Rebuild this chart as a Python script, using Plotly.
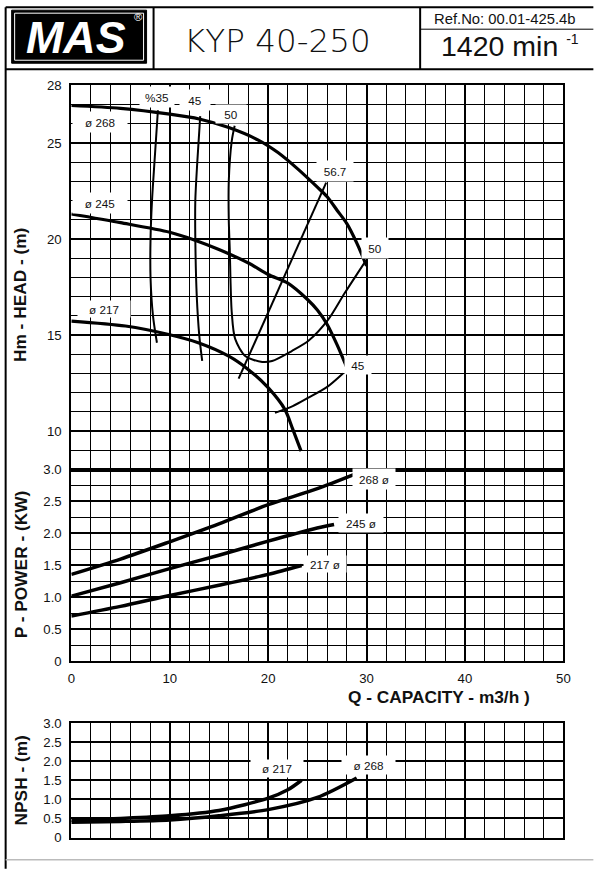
import plotly.graph_objects as go

# ---------------- data ----------------
# Head curves (Q m3/h, H m)
q_h268 = [0, 5, 10, 13, 16, 19, 21, 23, 25, 26, 27, 28, 29, 30]
h_h268 = [26.95, 26.8, 26.5, 26.25, 25.8, 25.15, 24.5, 23.65, 22.7, 22.2, 21.5, 20.8, 19.8, 18.6]
q_h245 = [0, 5, 10, 12.5, 15, 18, 20, 22, 24, 25, 26, 27, 28]
h_h245 = [21.3, 20.85, 20.35, 19.95, 19.45, 18.75, 18.15, 17.7, 16.85, 16.3, 15.55, 14.5, 13.3]
q_h217 = [0, 5.5, 9.9, 12.9, 16, 18, 20, 21.7, 22.5, 23.35]
h_h217 = [15.73, 15.47, 15.03, 14.6, 13.9, 13.2, 12.26, 11.13, 10.1, 8.96]

# Iso-efficiency curves
q_e35 = [8.8, 8.45, 8.2, 8.05, 8.05, 8.3, 8.7]
h_e35 = [26.7, 24.0, 22.0, 20.0, 18.0, 16.0, 14.6]
q_e45a = [13.1, 12.8, 12.6, 12.6, 12.75, 13.0, 13.3]
h_e45a = [26.4, 24.0, 22.0, 20.0, 17.0, 15.0, 13.65]
q_e45b = [20.7, 22.5, 24.1, 26.0, 27.6]
h_e45b = [10.95, 11.3, 11.74, 12.3, 13.0]
q_e50 = [16.6, 16.3, 16.0, 16.0, 16.1, 16.3, 16.65, 17.7, 19.4, 20.4, 22.4, 24.1, 26.1, 27.8, 29.9]
h_e50 = [25.9, 25.1, 23.0, 21.0, 19.5, 16.2, 14.8, 13.9, 13.6, 13.65, 14.17, 14.7, 15.8, 17.2, 18.85]
q_bep = [17.0, 25.9]
h_bep = [12.73, 22.94]

# Power curves (kW)
q_p268 = [0, 5, 10, 15, 20, 25, 28.7]
p_p268 = [1.36, 1.6, 1.87, 2.15, 2.45, 2.7, 2.92]
q_p245 = [0, 5, 10, 15, 20, 24.6, 26.7]
p_p245 = [1.02, 1.23, 1.45, 1.66, 1.88, 2.07, 2.14]
q_p217 = [0, 5, 10, 15, 20, 23.4]
p_p217 = [0.71, 0.86, 1.03, 1.19, 1.36, 1.5]

# NPSH curves (m)
q_n217 = [0, 5, 10, 15, 20, 22, 23.4]
n_n217 = [0.45, 0.5, 0.57, 0.71, 1.03, 1.25, 1.5]
q_n268 = [0, 5, 10, 15, 20, 25, 29]
n_n268 = [0.4, 0.42, 0.46, 0.57, 0.73, 1.05, 1.56]

head_ticks = [10, 15, 20, 25, 28]
kw_ticks = [0, 0.5, 1.0, 1.5, 2.0, 2.5, 3.0]
kw_ticktext = ["0", "0.5", "1.0", "1.5", "2.0", "2.5", "3.0"]
q_ticks = [0, 10, 20, 30, 40, 50]

# curve labels: (x, y, text, box w, box h)
head_labels = [(8.7, 27.4, "%35", 34, 20), (12.6, 27.22, "45", 30, 20), (16.2, 26.5, "50", 30, 18),
               (2.95, 26.11, "ø 268", 54, 20), (2.87, 21.86, "ø 245", 54, 20), (3.28, 16.34, "ø 217", 52, 16),
               (26.8, 23.54, "56.7", 36, 20), (30.9, 19.55, "50", 26, 20), (29.17, 13.42, "45", 26, 18)]
power_labels = [(30.79, 2.85, "268 ø", 42, 20), (29.44, 2.16, "245 ø", 44, 18), (25.79, 1.52, "217 ø", 42, 16)]
npsh_labels = [(20.87, 1.82, "ø 217", 52, 17), (30.18, 1.91, "ø 268", 53, 18)]

# ---------------- figure ----------------
W, H = 595, 869
K = 0.982                     # slight shrink observed in the photographed page
FONT = "Liberation Sans, Arial, sans-serif"


def fx(p):
    return (W / 2 + (p - W / 2) / K) / W


def fy(p):
    return 1 - (H / 2 + (p - H / 2) / K) / H


def fs(s):
    return round(s / K, 1)


fig = go.Figure()


def line(x, y, xa, ya, w):
    fig.add_trace(go.Scatter(x=x, y=y, xaxis=xa, yaxis=ya, mode="lines",
                             line=dict(color="black", width=w, shape="spline", smoothing=0.8),
                             showlegend=False, hoverinfo="skip"))


for q, h in [(q_h268, h_h268), (q_h245, h_h245), (q_h217, h_h217)]:
    line(q, h, "x", "y", 3.2)
for q, h in [(q_e35, h_e35), (q_e45a, h_e45a), (q_e45b, h_e45b), (q_e50, h_e50), (q_bep, h_bep)]:
    line(q, h, "x", "y", 2)
for q, p in [(q_p268, p_p268), (q_p245, p_p245), (q_p217, p_p217)]:
    line(q, p, "x2", "y2", 3.5)
for q, n in [(q_n217, n_n217), (q_n268, n_n268)]:
    line(q, n, "x3", "y3", 3.5)

xdom = [fx(72.7), fx(565)]
dom_head = [fy(470), fy(86.1)]
dom_pow = [fy(661.7), fy(470)]
dom_npsh = [fy(837.7), fy(723.3)]

tickfont = dict(family=FONT, size=fs(13), color="#111")


def xax(anchor, show):
    return dict(domain=xdom, range=[0, 50], anchor=anchor, tickvals=q_ticks, showticklabels=show,
                tickfont=tickfont, ticks="", ticklabelstandoff=4,
                showgrid=True, gridcolor="black", gridwidth=2,
                minor=dict(dtick=2, tick0=0, showgrid=True, gridcolor="black", gridwidth=1, ticks=""),
                showline=True, mirror=True, linecolor="black", linewidth=2, zeroline=False, fixedrange=True)


fig.update_layout(
    width=W, height=H, margin=dict(l=0, r=0, t=0, b=0),
    paper_bgcolor="white", plot_bgcolor="white", showlegend=False,
    xaxis=xax("y", False), xaxis2=xax("y2", True), xaxis3=xax("y3", False),
    yaxis=dict(domain=dom_head, range=[8, 28], anchor="x", tickvals=head_ticks, tickfont=tickfont,
               ticks="", ticklabelstandoff=5, showgrid=True, gridcolor="black", gridwidth=2,
               minor=dict(dtick=1, tick0=0, showgrid=True, gridcolor="black", gridwidth=1, ticks=""),
               showline=True, mirror=True, linecolor="black", linewidth=2, zeroline=False),
    yaxis2=dict(domain=dom_pow, range=[0, 3], anchor="x2", tickvals=kw_ticks, ticktext=kw_ticktext,
                tickfont=tickfont, ticks="", ticklabelstandoff=5, showgrid=True, gridcolor="black", gridwidth=2,
                minor=dict(dtick=0.25, tick0=0, showgrid=True, gridcolor="black", gridwidth=1, ticks=""),
                showline=True, mirror=True, linecolor="black", linewidth=2, zeroline=False),
    yaxis3=dict(domain=dom_npsh, range=[0, 3], anchor="x3", tickvals=kw_ticks, ticktext=kw_ticktext,
                tickfont=tickfont, ticks="", ticklabelstandoff=5, showgrid=True, gridcolor="black", gridwidth=1.5,
                showline=True, mirror=True, linecolor="black", linewidth=2, zeroline=False),
)

ann = []
lblfont = dict(family=FONT, size=fs(11.5), color="#111")
for lst, xr, yr in [(head_labels, "x", "y"), (power_labels, "x2", "y2"), (npsh_labels, "x3", "y3")]:
    for x, y, t, bw, bh in lst:
        ann.append(dict(x=x, y=y, xref=xr, yref=yr, text=t, showarrow=False, font=lblfont,
                        bgcolor="white", width=bw, height=bh, borderpad=0, align="center", valign="middle",
                        xanchor="center", yanchor="middle"))


def paper_text(x, y, text, font, angle=0):
    ann.append(dict(x=fx(x), y=fy(y), xref="paper", yref="paper", text=text, textangle=angle,
                    showarrow=False, font=font, xanchor="center", yanchor="middle"))


titlefont = dict(family=FONT, size=fs(17), color="#111")
paper_text(22, 296, "<b>Hm - HEAD - (m)</b>", titlefont, -90)
paper_text(22, 565, "<b>P - POWER - (KW)</b>", titlefont, -90)
paper_text(22, 781, "<b>NPSH - (m)</b>", titlefont, -90)
paper_text(441, 697, "<b>Q - CAPACITY - m3/h )</b>", titlefont)

# header texts
paper_text(77, 38, "<b><i>MAS</i></b>", dict(family="Liberation Sans, Arial", size=fs(44), color="white"))
paper_text(140, 18, "®", dict(family=FONT, size=fs(11), color="white"))
paper_text(279, 42, "KYP 40-250", dict(family="DejaVu Sans, sans-serif", size=fs(32), color="#111", weight=200))
paper_text(507, 20, "Ref.No: 00.01-425.4b", dict(family=FONT, size=fs(14.5), color="#111"))
paper_text(512, 47, "1420 min <sup><span style='font-size:14px'>-1</span></sup>",
           dict(family=FONT, size=fs(28), color="#111"))
fig.update_layout(annotations=ann)

# frame and header shapes
shapes = []


def seg(x0, y0, x1, y1, w=2, c="black"):
    shapes.append(dict(type="line", xref="paper", yref="paper", x0=fx(x0), y0=fy(y0), x1=fx(x1), y1=fy(y1),
                       line=dict(color=c, width=w)))


seg(7, 8, 595, 8)
seg(7, 8, 7, 869)
seg(7, 70, 595, 70)
seg(155, 8, 155, 70)
seg(421.7, 8, 421.7, 70)
seg(421.7, 30, 595, 30, 1)
seg(7, 860, 595, 860, 1.5, "#bbb")
shapes.append(dict(type="rect", xref="paper", yref="paper", x0=fx(13), y0=fy(64), x1=fx(148), y1=fy(11),
                   fillcolor="black", line=dict(color="black", width=1), layer="below"))
shapes.append(dict(type="rect", xref="paper", yref="paper", x0=fx(16), y0=fy(61), x1=fx(145), y1=fy(14),
                   fillcolor="rgba(0,0,0,0)", line=dict(color="white", width=1), layer="below"))
fig.update_layout(shapes=shapes)

css_fix = ("var s=document.createElement('style');"
           "s.textContent='html,body{margin:0 !important;padding:0 !important;overflow:hidden !important;}';"
           "document.head.appendChild(s);")
fig.write_html("out.html", config={"displayModeBar": False}, post_script=css_fix)
